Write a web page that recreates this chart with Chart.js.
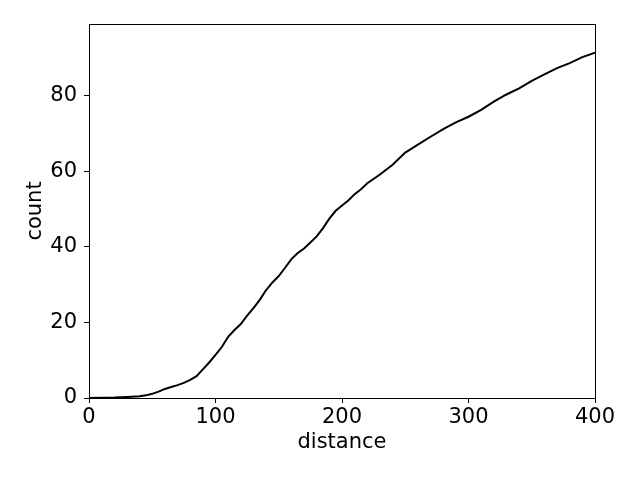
<!DOCTYPE html>
<html>
<head>
<meta charset="utf-8">
<script src="https://cdn.jsdelivr.net/npm/chart.js@4"></script>
<style>
    html, body { margin: 0; padding: 0; background: #fff; }
    #wrap { width: 640px; height: 480px; }
</style>
</head>
<body>
<div id="wrap"><canvas id="distChart" width="640" height="480"></canvas></div>
<script>
const distances = [0, 10, 20, 30, 40, 45, 50, 55, 60, 65, 70, 75, 80, 85, 90, 95, 100, 105, 110, 115,
    120, 125, 130, 135, 140, 145, 150, 155, 160, 165, 170, 175, 180, 185, 190, 195, 200, 205, 210, 215,
    220, 230, 240, 250, 260, 270, 280, 290, 300, 310, 320, 330, 340, 350, 360, 370, 380, 390, 400];
const counts = [0, 0.05, 0.1, 0.25, 0.45, 0.7, 1.1, 1.7, 2.4, 2.9, 3.4, 4.0, 4.8, 5.8, 7.6, 9.4, 11.4, 13.5, 16.2, 18.0,
    19.6, 21.8, 23.8, 26.0, 28.6, 30.6, 32.3, 34.5, 36.8, 38.4, 39.6, 41.2, 42.8, 45.0, 47.5, 49.6, 51.0, 52.3, 54.0, 55.3,
    56.9, 59.2, 61.8, 65.0, 67.1, 69.2, 71.2, 73.0, 74.5, 76.3, 78.5, 80.4, 82.0, 84.0, 85.7, 87.4, 88.7, 90.3, 91.5];
const xTicks = [0, 100, 200, 300, 400];
const yTicks = [0, 20, 40, 60, 80];

Chart.defaults.font.family = 'DejaVu Sans';
Chart.defaults.font.size = 21;
Chart.defaults.color = '#000';

// frame on the top and right sides too, like matplotlib
const frame = {
    id: 'frame',
    afterDraw(chart) {
        const { ctx, chartArea: a } = chart;
        ctx.save();
        ctx.strokeStyle = '#000';
        ctx.lineWidth = 1;
        ctx.strokeRect(a.left + 0.5, a.top + 0.5, a.right - a.left, a.bottom - a.top);
        ctx.restore();
    }
};

document.addEventListener('DOMContentLoaded', () => {
    new Chart(document.getElementById('distChart').getContext('2d'), {
        type: 'line',
        data: {
            datasets: [{
                data: distances.map((d, i) => ({ x: d, y: counts[i] })),
                borderColor: '#000',
                borderWidth: 2,
                pointRadius: 0,
                tension: 0,
                fill: false
            }]
        },
        options: {
            responsive: false,
            animation: false,
            layout: { padding: { left: 0, top: 24, right: 45, bottom: 0 } },
            plugins: { legend: { display: false }, tooltip: { enabled: false } },
            scales: {
                x: {
                    type: 'linear',
                    min: 0,
                    max: 400,
                    afterFit: s => { s.height = 82; },
                    afterBuildTicks: s => { s.ticks = xTicks.map(v => ({ value: v })); },
                    grid: { drawOnChartArea: false, tickLength: 5, color: '#000' },
                    border: { color: '#000' },
                    ticks: { color: '#000', padding: 2, maxRotation: 0 },
                    title: { display: true, text: 'distance', color: '#000', padding: { top: 0, bottom: 25 } }
                },
                y: {
                    min: 0,
                    max: 99.07,
                    afterFit: s => { s.width = 89; },
                    afterBuildTicks: s => { s.ticks = yTicks.map(v => ({ value: v })); },
                    grid: { drawOnChartArea: false, tickLength: 5, color: '#000' },
                    border: { color: '#000' },
                    ticks: { color: '#000', padding: 7 },
                    title: { display: true, text: 'count', color: '#000', padding: { top: 23, bottom: 0 } }
                }
            }
        },
        plugins: [frame]
    });
});
</script>
</body>
</html>
